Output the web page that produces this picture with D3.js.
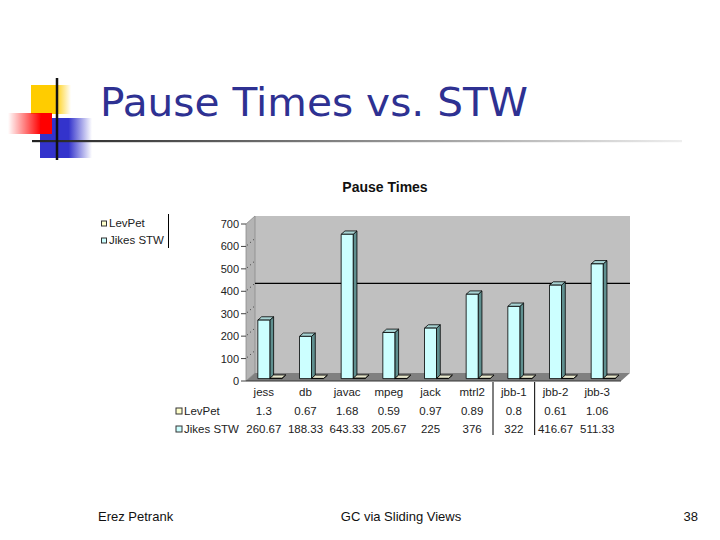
<!DOCTYPE html>
<html>
<head>
<meta charset="utf-8">
<script src="https://cdn.jsdelivr.net/npm/d3@7"></script>
<style>body{margin:0;background:#fff}</style>
</head>
<body>
<script>
// --- data -----------------------------------------------------------
const categories = ["jess","db","javac","mpeg","jack","mtrl2","jbb-1","jbb-2","jbb-3"];
const levPet     = [1.3, 0.67, 1.68, 0.59, 0.97, 0.89, 0.8, 0.61, 1.06];
const jikesSTW   = [260.67, 188.33, 643.33, 205.67, 225, 376, 322, 416.67, 511.33];
const seriesNames = ["LevPet", "Jikes STW"];
const yTicks = [0, 100, 200, 300, 400, 500, 600, 700];
const gridValues = [400];

const W = 720, H = 540;
const svg = d3.select("body").append("svg")
  .attr("width", W).attr("height", H)
  .attr("font-family", "'Liberation Sans', Arial, sans-serif");

// --- slide decoration ---------------------------------------------
const defs = svg.append("defs");
function hGrad(id, stops){
  const g = defs.append("linearGradient").attr("id", id)
    .attr("x1","0").attr("x2","1").attr("y1","0").attr("y2","0");
  stops.forEach(([o,c,a]) => g.append("stop").attr("offset",o)
    .attr("stop-color",c).attr("stop-opacity",a ?? 1));
}
hGrad("gYel",  [[0,"#ffcc00"],[0.6,"#ffcc00"],[1,"#ffcc00",0]]);
hGrad("gBlue", [[0,"#3333cc"],[0.55,"#3333cc"],[1,"#3333cc",0]]);
hGrad("gRed",  [[0,"#ff0000",0],[0.75,"#ff0000"],[1,"#ff0000"]]);
hGrad("gLine", [[0,"#222"],[0.5,"#888"],[1,"#eee"]]);

svg.append("rect").attr("x",31).attr("y",85).attr("width",40).attr("height",29).attr("fill","url(#gYel)");
svg.append("rect").attr("x",40).attr("y",118).attr("width",52).attr("height",40).attr("fill","url(#gBlue)");
svg.append("rect").attr("x",8).attr("y",113).attr("width",44).attr("height",21).attr("fill","url(#gRed)");
svg.append("rect").attr("x",32).attr("y",140).attr("width",650).attr("height",2.2).attr("fill","url(#gLine)");
svg.append("line").attr("x1",57).attr("x2",57).attr("y1",78).attr("y2",160)
  .attr("stroke","#111").attr("stroke-width",2.5);

svg.append("text").attr("x",100).attr("y",116)
  .attr("font-family","'DejaVu Sans', sans-serif").attr("font-size",39)
  .attr("textLength",428).attr("lengthAdjust","spacingAndGlyphs")
  .attr("fill","#2e3192").text("Pause Times vs. STW");

// footer
const foot = svg.append("g").attr("font-size",13).attr("fill","#111");
foot.append("text").attr("x",98).attr("y",521).text("Erez Petrank");
foot.append("text").attr("x",401).attr("y",521).attr("text-anchor","middle").text("GC via Sliding Views");
foot.append("text").attr("x",698).attr("y",521).attr("text-anchor","end").text("38");

// --- chart ----------------------------------------------------------
const DX = 9, DY = 8;                 // full depth offset of the 3-D box
const plotL = 246, plotR = 621;
const y = d3.scaleLinear([0, 700], [381, 224]);
const x = d3.scaleBand(categories, [243, 618]);
const P = (px, v, z) => [px + z*DX, y(v) - z*DY];
const poly = pts => pts.map(p => p.join(",")).join(" ");

svg.append("text").attr("x",385).attr("y",192).attr("text-anchor","middle")
  .attr("font-size",14).attr("font-weight","bold").attr("fill","#111").text("Pause Times");

const chart = svg.append("g");
// back wall
chart.append("polygon")
  .attr("points", poly([P(plotL,0,1),P(plotL,700,1),P(plotR,700,1),P(plotR,0,1)]))
  .attr("fill","#c0c0c0");
// side wall
chart.append("polygon")
  .attr("points", poly([P(plotL,0,0),P(plotL,700,0),P(plotL,700,1),P(plotL,0,1)]))
  .attr("fill","#b4b4b4").attr("stroke","#8a8a8a").attr("stroke-width",0.8);
// floor
chart.append("polygon")
  .attr("points", poly([P(plotL,0,0),P(plotR,0,0),P(plotR,0,1),P(plotL,0,1)]))
  .attr("fill","#808080");
chart.append("line").attr("x1",plotL).attr("x2",plotR).attr("y1",y(0)).attr("y2",y(0))
  .attr("stroke","#333").attr("stroke-width",1);

// gridlines on the back wall and dotted traces on the side wall
gridValues.forEach(v => {
  const a = P(plotL,v,1), b = P(plotR,v,1);
  chart.append("line").attr("x1",a[0]).attr("y1",a[1]).attr("x2",b[0]).attr("y2",b[1])
    .attr("stroke","#000").attr("stroke-width",1.2);
});
yTicks.filter(v => v > 0 && v < 700).forEach(v => {
  const a = P(plotL,v,0), b = P(plotL,v,1);
  chart.append("line").attr("x1",a[0]+1).attr("y1",a[1]-1).attr("x2",b[0]).attr("y2",b[1])
    .attr("stroke","#333").attr("stroke-width",1).attr("stroke-dasharray","1,3");
});

// y axis ticks + labels
const yAx = svg.append("g").attr("font-size",11).attr("fill","#222");
yTicks.forEach(v => {
  yAx.append("line").attr("x1",plotL-5).attr("x2",plotL).attr("y1",y(v)).attr("y2",y(v))
    .attr("stroke","#444").attr("stroke-width",1);
  yAx.append("text").attr("x",plotL-7).attr("y",y(v)+4).attr("text-anchor","end").text(v);
});

// bars
const z0 = 0.3, z1 = 0.72, barW = 12;
const styles = [
  { front:"#ffffcc", side:"#99996b", top:"#e6e6cc" },
  { front:"#ccffff", side:"#5f8f8f", top:"#a8d4d4" }
];
function bar3d(g, px, v, st){
  const f0 = px - z0*DX;   // left edge on the front plane
  const f1 = f0 + barW;
  g.append("polygon").attr("points", poly([P(f1,0,z0),P(f1,v,z0),P(f1,v,z1),P(f1,0,z1)]))
    .attr("fill",st.side).attr("stroke","#000").attr("stroke-width",0.8);
  g.append("polygon").attr("points", poly([P(f0,v,z0),P(f1,v,z0),P(f1,v,z1),P(f0,v,z1)]))
    .attr("fill",st.top).attr("stroke","#000").attr("stroke-width",0.8);
  g.append("polygon").attr("points", poly([P(f0,0,z0),P(f0,v,z0),P(f1,v,z0),P(f1,0,z0)]))
    .attr("fill",st.front).attr("stroke","#000").attr("stroke-width",0.8);
}
const barsG = svg.append("g");
categories.forEach((c, i) => {
  const cx = x(c) + x.bandwidth()/2;
  bar3d(barsG, cx - barW/2, jikesSTW[i], styles[1]);
  bar3d(barsG, cx + barW/2, levPet[i], styles[0]);
});

// --- data table -----------------------------------------------------
const tbl = svg.append("g").attr("font-size",11.5).attr("fill","#222");
const rows = [levPet, jikesSTW];
const rowY = [415, 433];
categories.forEach(c => {
  const cx = x(c) + x.bandwidth()/2;
  tbl.append("text").attr("x",cx).attr("y",396).attr("text-anchor","middle").text(c);
  rows.forEach((r, k) => tbl.append("text").attr("x",cx).attr("y",rowY[k])
    .attr("text-anchor","middle").text(String(r[categories.indexOf(c)])));
});
seriesNames.forEach((s, k) => {
  tbl.append("rect").attr("x",176).attr("y",rowY[k]-7).attr("width",6).attr("height",6)
    .attr("fill",styles[k].front).attr("stroke","#333").attr("stroke-width",1);
  tbl.append("text").attr("x",184).attr("y",rowY[k]).text(s);
});
["mtrl2","jbb-1"].forEach(c => {
  const lx = x(c) + x.bandwidth();
  tbl.append("line").attr("x1",lx).attr("x2",lx).attr("y1",382).attr("y2",435)
    .attr("stroke","#000").attr("stroke-width",1);
});

// --- legend ---------------------------------------------------------
const leg = svg.append("g").attr("font-size",11.5).attr("fill","#222");
seriesNames.forEach((s, k) => {
  const ly = 227 + k*17;
  leg.append("rect").attr("x",101.5).attr("y",ly-6).attr("width",5).attr("height",5)
    .attr("fill",styles[k].front).attr("stroke","#333").attr("stroke-width",1);
  leg.append("text").attr("x",109).attr("y",ly).text(s);
});
leg.append("line").attr("x1",168.5).attr("x2",168.5).attr("y1",214).attr("y2",248)
  .attr("stroke","#000").attr("stroke-width",1);
</script>
</body>
</html>
